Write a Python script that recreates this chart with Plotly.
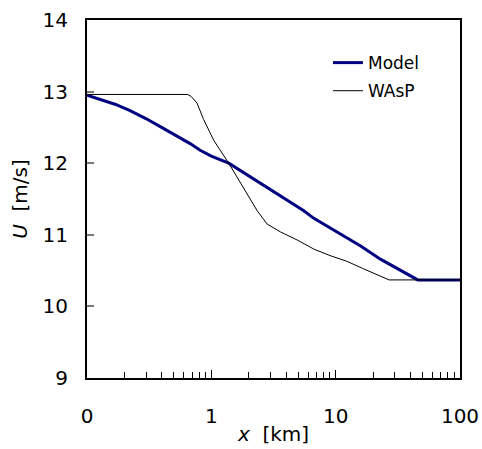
import plotly.graph_objects as go

# Model series
model_x = [0.1, 0.13, 0.17, 0.224, 0.30, 0.398, 0.562, 0.68, 0.813, 1.0, 1.38, 1.9, 2.63, 3.6, 4.37, 5.5, 6.68, 9.0, 12.3, 16.0, 22.9, 32.0, 45.7, 100]
model_u = [12.95, 12.89, 12.82, 12.73, 12.62, 12.50, 12.35, 12.27, 12.18, 12.10, 12.00, 11.85, 11.69, 11.55, 11.46, 11.34, 11.23, 11.10, 10.96, 10.84, 10.66, 10.52, 10.37, 10.37]

# WAsP series
wasp_x = [0.1, 0.646, 0.69, 0.767, 0.867, 1.045, 1.38, 1.94, 2.33, 2.81, 3.2, 3.6, 5.0, 6.68, 9.0, 12.3, 16.5, 22.9, 26.9, 100]
wasp_u = [12.96, 12.96, 12.93, 12.84, 12.61, 12.32, 12.00, 11.57, 11.34, 11.15, 11.09, 11.04, 10.92, 10.80, 10.71, 10.63, 10.53, 10.42, 10.37, 10.37]

x_ticks = [0.1, 1, 10, 100]
x_ticktext = ["0", "1", "10", "100"]
y_ticks = [9, 10, 11, 12, 13, 14]

FONT = "DejaVu Sans"

fig = go.Figure()
fig.add_trace(go.Scatter(x=model_x, y=model_u, mode="lines", name="Model",
                         legendgroup="a",
                         line=dict(color="#000080", width=3)))
fig.add_trace(go.Scatter(x=wasp_x, y=wasp_u, mode="lines", name="WAsP",
                         legendgroup="b",
                         line=dict(color="black", width=1)))

fig.update_layout(
    width=482, height=449,
    margin=dict(l=87, r=22, t=20, b=71, autoexpand=False),
    paper_bgcolor="white", plot_bgcolor="white",
    font=dict(family=FONT, size=20, color="black"),
    showlegend=True,
    legend=dict(x=0.646, y=0.93, xanchor="left", yanchor="top",
                bgcolor="rgba(0,0,0,0)", font=dict(family=FONT, size=17),
                traceorder="grouped", tracegroupgap=3, itemwidth=30),
    xaxis=dict(
        type="log", range=[-1, 2], automargin=False,
        tickmode="array", tickvals=x_ticks, ticktext=x_ticktext,
        ticks="inside", ticklen=8, tickwidth=1, tickcolor="black",
        ticklabelstandoff=19, ticklabeloverflow="allow",
        showline=True, linecolor="black", linewidth=2, mirror=True,
        showgrid=False, zeroline=False,
        minor=dict(ticks="inside", ticklen=6, tickwidth=1, tickcolor="black",
                   tickvals=[v * m for v in [0.1, 1, 10] for m in range(2, 10)],
                   showgrid=False),
        title=dict(text="<i>x</i>  [km]", font=dict(family=FONT, size=20), standoff=0),
        tickfont=dict(family=FONT, size=20),
    ),
    yaxis=dict(
        range=[9, 14], tickvals=y_ticks, automargin=False,
        ticks="inside", ticklen=7, tickwidth=2, tickcolor="#777777",
        ticklabelstandoff=13, ticklabeloverflow="allow",
        showline=True, linecolor="black", linewidth=2, mirror=True,
        showgrid=False, zeroline=False,
        title=dict(text="<i>U</i>  [m/s]", font=dict(family=FONT, size=20), standoff=10),
        tickfont=dict(family=FONT, size=20),
    ),
)

fig.write_html("out.html",
               config={"displayModeBar": False},
               post_script="document.body.style.margin='0';document.body.style.overflow='hidden';")
